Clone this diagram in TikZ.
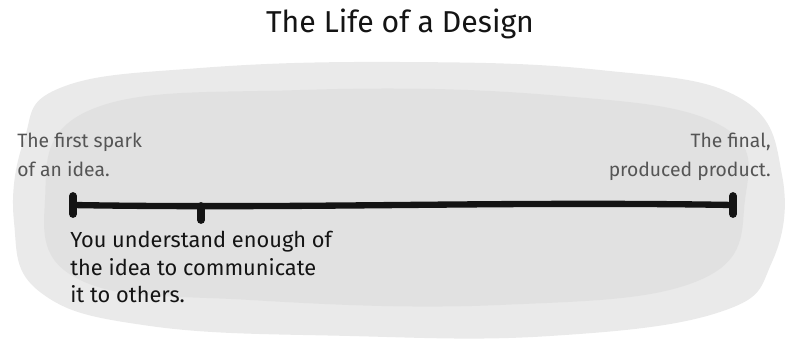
\documentclass[tikz,border=0pt]{standalone}
\usepackage{fontspec}
\setmainfont{Fira Sans}
\usepackage{tikz}
\usetikzlibrary{positioning,calc}
\definecolor{wash}{RGB}{234,234,234}
\definecolor{washdark}{RGB}{222,222,222}
\definecolor{notegray}{RGB}{85,85,85}
\definecolor{ink}{RGB}{20,20,20}
\tikzset{
  note/.style={align=#1,inner sep=0pt,text=notegray,font=\fontsize{11}{16.5}\selectfont},
  note/.default=left,
  desc/.style={align=left,inner sep=0pt,text=ink,font=\fontsize{12.4}{15.7}\selectfont},
  heading/.style={inner sep=0pt,text=ink,font=\fontsize{17.2}{20}\selectfont},
  timeline/.style={line width=3.6pt,color=ink,line cap=round},
  tickmark/.style={line width=4.4pt,color=ink,line cap=round},
}

\begin{document}
\begin{tikzpicture}[x=0.02cm,y=-0.02cm]
  \useasboundingbox (0,0) rectangle (790,355);
  % watercolour wash behind the timeline
  \fill[wash] plot[smooth cycle,tension=0.7] coordinates {(60,88) (200,68) (400,62) (600,70) (740,98) (782,175) (772,262) (720,312) (550,336) (350,336) (150,326) (40,292) (14,222) (24,140)};
  \fill[washdark,opacity=0.7] plot[smooth cycle,tension=0.7] coordinates {(90,110) (300,90) (550,95) (720,125) (745,200) (700,280) (500,305) (250,300) (80,280) (45,200)};

  \node[heading] (title) at (400,24) {The Life of a Design};

  % the timeline
  \coordinate (start) at (73,205);
  \coordinate (mid) at (201,206);
  \coordinate (end) at (733,205);
  \draw[timeline] (start) .. controls (300,209) and (500,201) .. (end);
  \draw[tickmark] ($(start)+(0,-9)$) -- ($(start)+(0,9)$);
  \draw[tickmark] ($(end)+(0,-9)$) -- ($(end)+(0,9)$);
  \draw[tickmark] (mid) -- ($(mid)+(0,14)$);

  \node[note,anchor=north west] (spark) at (17,133) {The first spark\\of an idea.};
  \node[note=right,anchor=north east] (product) at (771,133) {The final,\\produced product.};
  \node[desc,anchor=north west] (share) at (70,231) {You understand enough of\\the idea to communicate\\it to others.};
\end{tikzpicture}
\end{document}
